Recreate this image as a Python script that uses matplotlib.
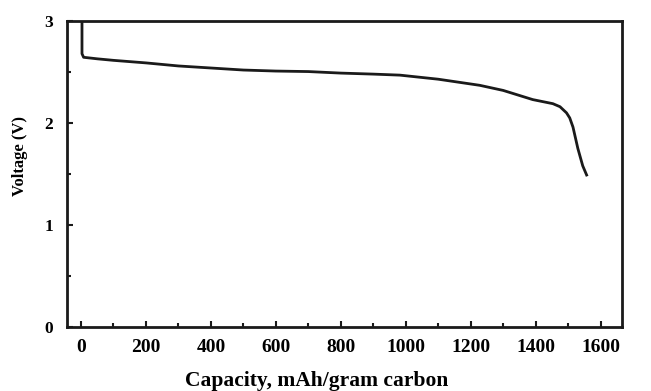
import matplotlib
matplotlib.use("Agg")
import matplotlib.pyplot as plt
from matplotlib.ticker import MultipleLocator

capacity = [3, 3, 8, 50, 100, 200, 300, 400, 500, 600, 700, 800, 900, 982, 1100,
            1228, 1300, 1391, 1453, 1475, 1495, 1505, 1515, 1530, 1545, 1557]
voltage = [3.0, 2.68, 2.645, 2.63, 2.615, 2.59, 2.56, 2.54, 2.52, 2.51, 2.505, 2.49, 2.48, 2.47, 2.43,
           2.37, 2.32, 2.23, 2.19, 2.16, 2.10, 2.05, 1.96, 1.75, 1.58, 1.49]

xticks = [0, 200, 400, 600, 800, 1000, 1200, 1400, 1600]
yticks = [0, 1, 2, 3]

plt.rcParams['font.family'] = ['Liberation Serif', 'DejaVu Serif']
plt.rcParams['font.weight'] = 'bold'

fig = plt.figure(figsize=(6.51, 3.91), dpi=100)
ax = fig.add_axes([0.103, 0.164, 0.852, 0.782])
ax.plot(capacity, voltage, color='#1a1a1a', lw=2.0, solid_joinstyle='round')

ax.set_xlim(-43, 1665)
ax.set_ylim(0, 3)
ax.set_xticks(xticks)
ax.set_yticks(yticks)
ax.xaxis.set_minor_locator(MultipleLocator(100))
ax.yaxis.set_minor_locator(MultipleLocator(0.5))
ax.set_xticklabels([str(t) for t in xticks], fontsize=14, fontweight='bold')
ax.set_yticklabels([str(t) for t in yticks], fontsize=12.5, fontweight='bold')
ax.tick_params(which='both', direction='in', top=False, right=False, width=1.5, color='#1a1a1a')
ax.tick_params(which='major', length=4)
ax.tick_params(which='minor', length=3)
ax.tick_params(axis='x', pad=9)
ax.tick_params(axis='y', pad=10)
for s in ax.spines.values():
    s.set_linewidth(2.0)
    s.set_color('#1a1a1a')

fig.text(0.487, 0.026, 'Capacity, mAh/gram carbon', fontsize=15.5, fontweight='bold',
         ha='center', va='center')
fig.text(0.031, 0.601, 'Voltage (V)', fontsize=12, fontweight='bold', rotation=90,
         ha='center', va='center')

fig.savefig('out.png', dpi=100)
